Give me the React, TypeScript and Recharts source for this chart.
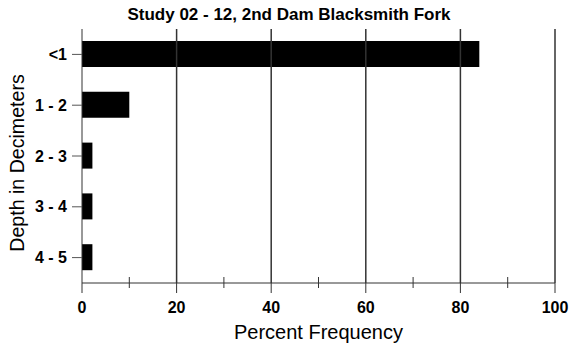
import React from 'react'
import { BarChart, Bar, XAxis, YAxis, ReferenceLine, Label } from 'recharts'

const depths = ['<1', '1 - 2', '2 - 3', '3 - 4', '4 - 5']
const frequency = [84, 10, 2.2, 2.2, 2.2]
const xTicks = [0, 10, 20, 30, 40, 50, 60, 70, 80, 90, 100]
const gridValues = [20, 40, 60, 80, 100]

const data = depths.map((depth, i) => ({ depth, freq: frequency[i] }))

const XTick = (props: any) => {
  const { x, y, payload } = props
  const major = payload.value % 20 === 0
  return (
    <g>
      {major
        ? <line x1={x} x2={x} y1={y} y2={y + 10} stroke="#333" />
        : <line x1={x} x2={x} y1={y - 6} y2={y + 5} stroke="#333" />}
      {major &&
        <text x={x} y={y + 30} textAnchor="middle" fontSize={16} fontWeight="bold" fill="#000">
          {payload.value}
        </text>}
    </g>
  )
}

// rotated axis title, nudged a bit below the plot middle like the original
const DepthLabel = (props: any) => {
  const { viewBox } = props
  const x = viewBox.x + 24
  const y = viewBox.y + viewBox.height / 2 + 7
  return (
    <text x={x} y={y} transform={`rotate(-90, ${x}, ${y})`} textAnchor="middle" fontSize={19.6} fill="#000">
      Depth in Decimeters
    </text>
  )
}

const App = () =>
  <div style={{ position: 'absolute', left: 0, top: 0, width: 570, height: 347, fontFamily: 'Arial, "Liberation Sans", sans-serif' }}>
    <div style={{ position: 'absolute', left: 4, top: 5, width: 570, textAlign: 'center', fontSize: 17, fontWeight: 'bold', color: '#000' }}>
      Study 02 - 12, 2nd Dam Blacksmith Fork
    </div>
    <BarChart
      width={570}
      height={347}
      data={data}
      layout="vertical"
      margin={{ top: 29, right: 15, left: 0, bottom: 0 }}
    >
      <XAxis
        type="number"
        domain={[0, 100]}
        ticks={xTicks}
        interval={0}
        height={64}
        tickSize={0}
        tickMargin={0}
        tickLine={false}
        tick={<XTick />}
        axisLine={{ stroke: '#333' }}
      >
        <Label value="Percent Frequency" position="insideBottom" offset={8} fontSize={20} fill="#000" />
      </XAxis>
      <YAxis
        type="category"
        dataKey="depth"
        width={82}
        tickSize={10}
        tickMargin={5}
        tick={{ fontSize: 16, fontWeight: 'bold', fill: '#000' }}
        tickLine={{ stroke: '#555' }}
        axisLine={{ stroke: '#333' }}
      >
        <Label content={<DepthLabel />} />
      </YAxis>
      {gridValues.map(v =>
        <ReferenceLine key={v} x={v} stroke="#333" strokeWidth={1.5} />
      )}
      <Bar dataKey="freq" fill="#000" barSize={26} isAnimationActive={false} />
    </BarChart>
  </div>

export default App
